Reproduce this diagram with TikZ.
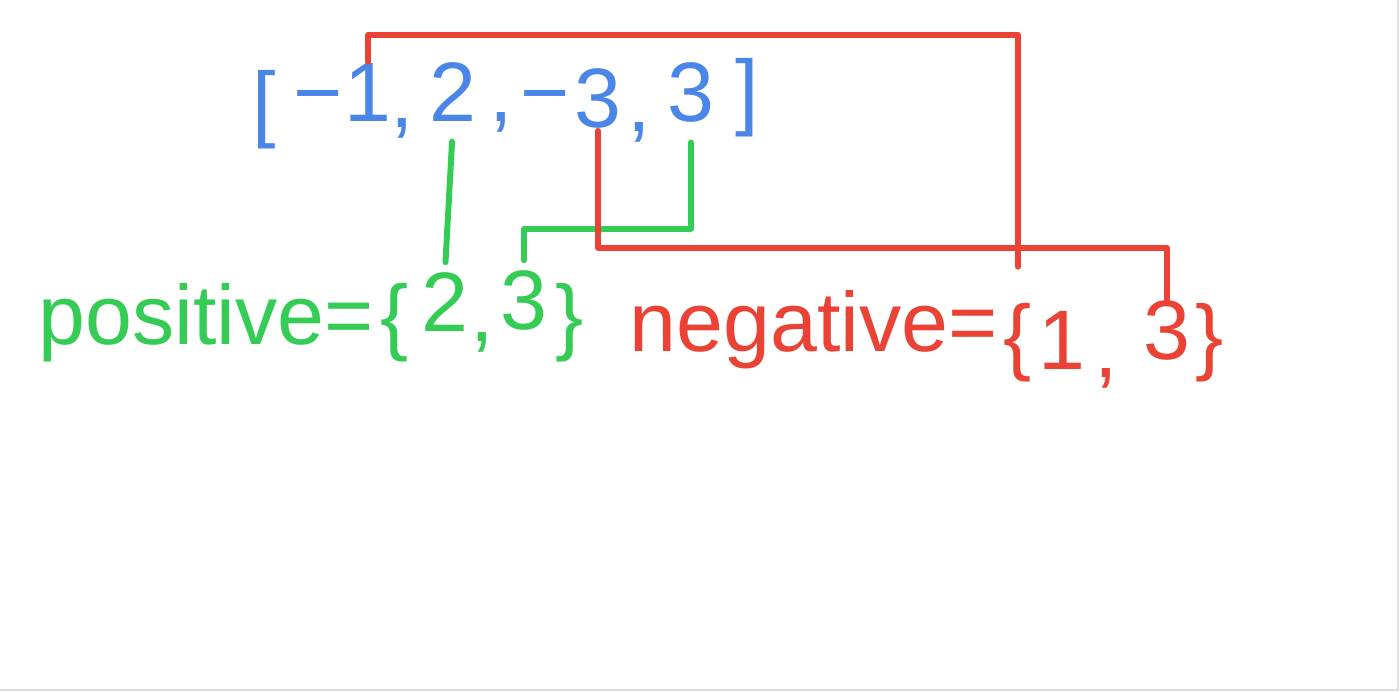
\documentclass[tikz,border=0pt]{standalone}
\usepackage{fontspec}
\setmainfont{Liberation Sans}
\usepackage{tikz}
\usetikzlibrary{positioning, calc}
\definecolor{inkblue}{RGB}{74,134,232}
\definecolor{inkgreen}{RGB}{52,204,84}
\definecolor{inkred}{RGB}{234,67,53}

\begin{document}
\begin{tikzpicture}[
    x=0.02cm, y=-0.02cm,
    ink/.style={anchor=base, inner sep=1pt, font=\fontsize{48}{50}\selectfont},
    inlist/.style={ink, text=inkblue},
    posset/.style={ink, text=inkgreen},
    negset/.style={ink, text=inkred},
    greenwire/.style={draw=inkgreen, line width=3.4pt, line cap=round, line join=round, shorten <=10pt, shorten >=5pt},
    redwire/.style={draw=inkred, line width=3.4pt, line cap=round, line join=round}
]
    \useasboundingbox (0,0) rectangle (1400,692);
    \draw[gray!25, line width=0.6pt] (0,690) -- (1398,690) -- (1398,0);

    % Input list
    \node[inlist] (lbr) at (264,132) {[};
    \node[inlist] (m1) at (318,122) {−};
    \node[inlist] (d1) at (368,122) {1};
    \node[inlist] (k1) at (402,128) {,};
    \node[inlist] (b2) at (453,122) {2};
    \node[inlist] (k2) at (501,122) {,};
    \node[inlist] (m3) at (545,122) {−};
    \node[inlist] (d3) at (598,128) {3};
    \node[inlist] (k3) at (639,132) {,};
    \node[inlist] (b4) at (691,122) {3};
    \node[inlist] (rbr) at (747,120) {]};

    % positive set
    \node[posset] (poslabel) at (206,345) {positive=};
    \node[posset] (glbr) at (395,345) {\{};
    \node[posset] (g2) at (445,332) {2};
    \node[posset] (gk) at (482,342) {,};
    \node[posset] (g3) at (524,330) {3};
    \node[posset] (grbr) at (570,345) {\}};

    % negative set
    \node[negset] (neglabel) at (814,352) {negative=};
    \node[negset] (rlbr) at (1018,365) {\{};
    \node[negset] (r1) at (1062,370) {1};
    \node[negset] (rk) at (1106,378) {,};
    \node[negset] (r3) at (1167,360) {3};
    \node[negset] (rrbr) at (1210,365) {\}};

    % Positive values
    \draw[greenwire] (b2.south) -- (g2.north);
    \draw[greenwire] (b4.south) -- ++(0,104) -| (g3.north);

    % Negative values
    \draw[redwire, shorten >=20pt] (d1.north) -- ++(0,-27) -| (rlbr.north);
    \draw[redwire] (d3.south) -- ++(0,117) -| (r3.north);

\end{tikzpicture}
\end{document}
